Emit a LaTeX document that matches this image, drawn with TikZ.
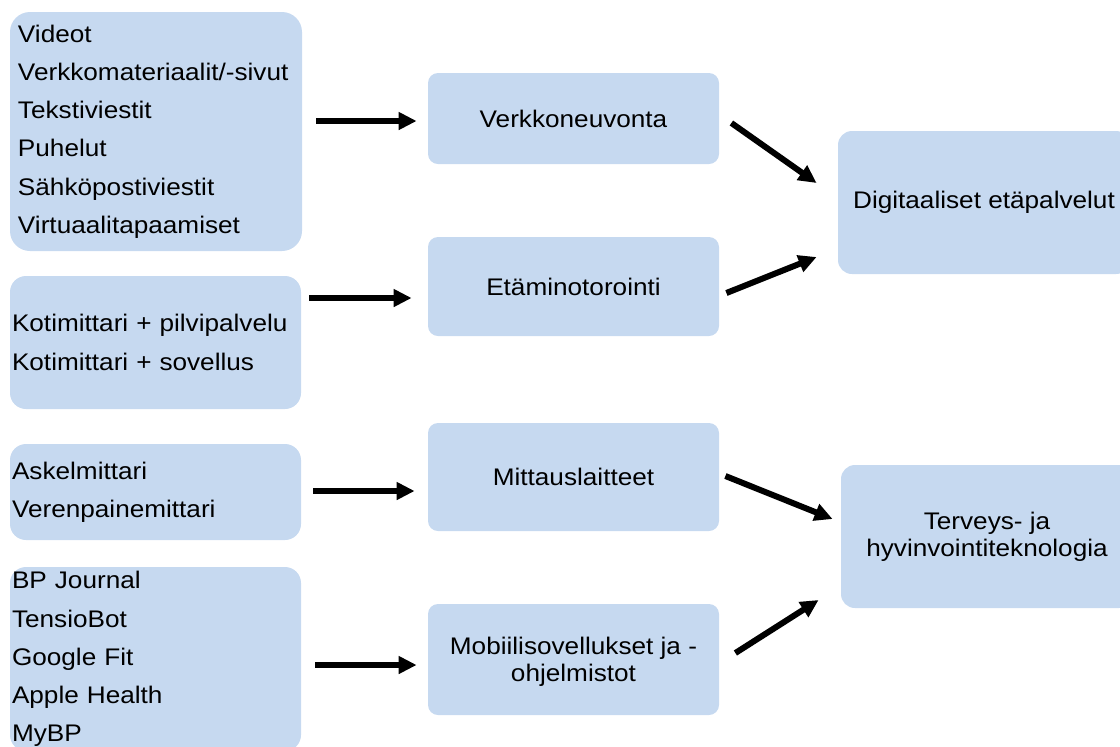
\documentclass[tikz,border=0pt]{standalone}
\usepackage{fontspec}
\setmainfont{Liberation Sans}[FakeStretch=1.09]
\usetikzlibrary{arrows.meta,calc}
\definecolor{boxblue}{RGB}{198,217,240}
\begin{document}
\begin{tikzpicture}[x=0.5pt,y=-0.5pt,
	list/.style={fill=boxblue,rounded corners=8pt,inner sep=0pt,inner xsep=1pt,text width=143.5pt,align=left,font=\fontsize{12}{19.1}\selectfont},
	box/.style={fill=boxblue,rounded corners=5pt,inner sep=0pt,minimum width=145.5pt,align=center,font=\fontsize{12}{13.6}\selectfont},
	goal/.style={box,rounded corners=7pt,minimum width=146pt,minimum height=71.5pt},
	arr/.style={line width=3pt,-{Triangle[length=9pt,width=8.5pt]}}]
	\useasboundingbox (0,0) rectangle (1120,746);
	\clip (0,0) rectangle (1120,746);
	\node[list,rounded corners=10pt,inner xsep=4pt,text width=138pt,minimum height=119.5pt] (L_1) at (156,131.5) {Videot\\Verkkomateriaalit/-sivut\\Tekstiviestit\\Puhelut\\Sähköpostiviestit\\Virtuaalitapaamiset};
	\node[list,minimum height=66.5pt] (L_2) at (155.5,342.5) {Kotimittari + pilvipalvelu\\Kotimittari + sovellus};
	\node[list,minimum height=48pt] (L_3) at (155.5,492) {Askelmittari\\Verenpainemittari};
	\node[list,minimum height=92pt] (L_4) at (155.5,659) {BP Journal\\TensioBot\\Google Fit\\Apple Health\\MyBP};
	\node[box,minimum height=45.5pt] (M_1) at (573.5,118.5) {Verkkoneuvonta};
	\node[box,minimum height=49.5pt] (M_2) at (573.5,286.5) {Etäminotorointi};
	\node[box,minimum height=54pt] (M_3) at (573.5,477) {Mittauslaitteet};
	\node[box,minimum height=55.5pt] (M_4) at (573.5,659.5) {\rule{0pt}{11pt}Mobiilisovellukset ja -\\ohjelmistot};
	\node[goal] (R_1) at (984,202.5) {Digitaaliset etäpalvelut};
	\node[goal] (R_2) at (987,536.5) {Terveys- ja\\hyvinvointiteknologia};
	\draw[arr] ($(L_1.east)+(14,-10.5)$) -- ($(M_1.west)+(-11,2.5)$);
	\draw[arr] ($(L_2.east)+(8,-44.5)$) -- ($(M_2.west)+(-16,11.5)$);
	\draw[arr] ($(L_3.east)+(12,-1)$) -- ($(M_3.west)+(-13,14)$);
	\draw[arr] ($(L_4.east)+(14,6)$) -- ($(M_4.west)+(-11,5.5)$);
	\draw[arr] ($(M_1.east)+(12,4.5)$) -- ($(R_1.west)+(-21,-19.5)$);
	\draw[arr] ($(M_2.east)+(7,6.5)$) -- ($(R_1.west)+(-21,54.5)$);
	\draw[arr] ($(M_3.east)+(6,-1)$) -- ($(R_2.west)+(-8,-17.5)$);
	\draw[arr] ($(M_4.east)+(16,-6.5)$) -- ($(R_2.west)+(-22,63.5)$);
\end{tikzpicture}
\end{document}
